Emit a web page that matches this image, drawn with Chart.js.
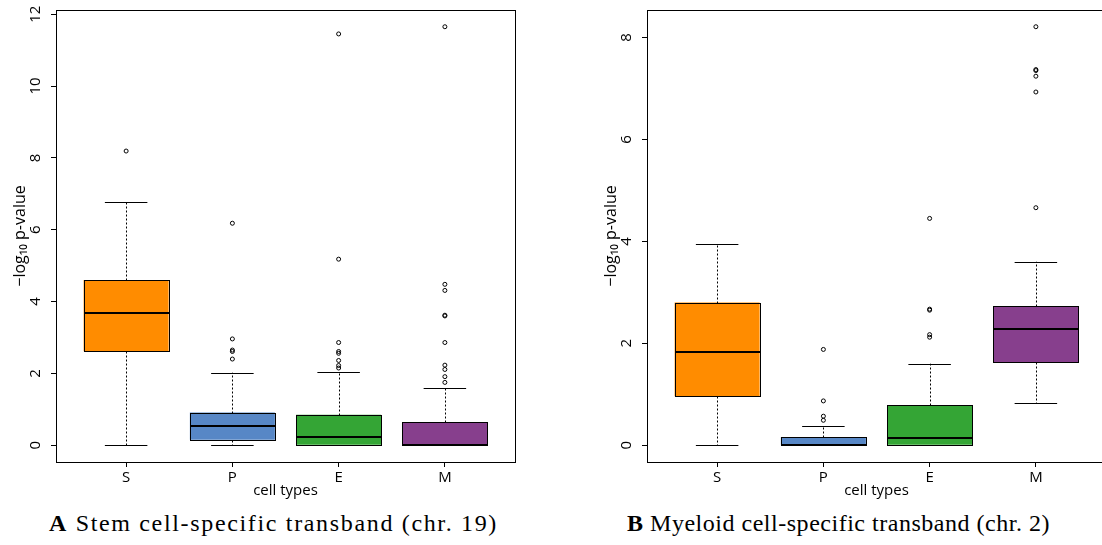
<!DOCTYPE html>
<html>
<head>
<meta charset="utf-8">
<script src="https://cdn.jsdelivr.net/npm/chart.js@4"></script>
<style>
  html, body { margin: 0; padding: 0; background: #fff; overflow: hidden; width: 1102px; height: 545px; }
  .panel { position: absolute; top: 0; width: 551px; height: 500px; }
  .cap { position: absolute; font-family: "Liberation Serif", serif; font-size: 24px; line-height: 1; color: #000; white-space: nowrap; }
</style>
</head>
<body>
<div class="panel" style="left:0"><canvas id="chartA" width="551" height="500"></canvas></div>
<div class="panel" style="left:591px"><canvas id="chartB" width="551" height="500"></canvas></div>
<div class="cap" id="capA" data-left="49" data-right="498"><b>A</b> Stem cell-specific transband (chr. 19)</div>
<div class="cap" id="capB" data-left="627" data-right="1050"><b>B</b> Myeloid cell-specific transband (chr. 2)</div>
<script>
const categories = ['S', 'P', 'E', 'M'];
const boxColors = ['#ff8c00', '#5787c6', '#34a535', '#873f8d'];

// A: stem cell-specific transband (chr. 19)
const lowA = [0, 0, 0, 0];
const q1A = [2.62, 0.15, 0, 0];
const medA = [3.67, 0.54, 0.22, 0];
const q3A = [4.60, 0.91, 0.85, 0.65];
const highA = [6.77, 2.02, 2.03, 1.59];
const outA = [
  [8.19],
  [6.18, 2.96, 2.65, 2.61, 2.40],
  [11.45, 5.18, 2.86, 2.61, 2.56, 2.36, 2.22, 2.15],
  [11.65, 4.48, 4.31, 3.62, 3.60, 2.86, 2.23, 2.11, 1.91, 1.75]
];
const ticksA = [0, 2, 4, 6, 8, 10, 12];

// B: myeloid cell-specific transband (chr. 2)
const lowB = [0, 0, 0, 0.83];
const q1B = [0.96, 0, 0, 1.63];
const medB = [1.82, 0, 0.14, 2.29];
const q3B = [2.80, 0.16, 0.79, 2.73];
const highB = [3.95, 0.37, 1.60, 3.60];
const outB = [
  [],
  [1.88, 0.87, 0.57, 0.49],
  [4.45, 2.67, 2.65, 2.17, 2.12],
  [8.21, 7.37, 7.35, 7.24, 6.93, 4.66]
];
const ticksB = [0, 2, 4, 6, 8];

const axisFont = { family: 'Open Sans', size: 15 };

function makeChart(id, low, q1, med, q3, high, outliers, yTicks) {
  const xs = categories.map((c, i) => i + 1);
  // R style axis range: 4% extension
  const maxV = Math.max(...high, ...outliers.flat());
  const minV = Math.min(...low);
  const ext = (maxV - minV) * 0.04;
  const xExt = xs.length * 0.04;

  const points = [];
  outliers.forEach((arr, i) => arr.forEach(v => points.push({ x: i + 1, y: v })));

  const boxPlugin = {
    id: 'boxplot',
    afterDatasetsDraw(chart) {
      const { ctx, chartArea: a, scales: { x, y } } = chart;
      const px = v => Math.round(v) + 0.5;
      ctx.save();
      ctx.strokeStyle = '#000';
      xs.forEach((xv, i) => {
        const cx = px(x.getPixelForValue(xv));
        const capL = x.getPixelForValue(xv - 0.2), capR = x.getPixelForValue(xv + 0.2);
        const boxL = px(x.getPixelForValue(xv - 0.4)), boxR = px(x.getPixelForValue(xv + 0.4));
        const yQ1 = px(y.getPixelForValue(q1[i])), yQ3 = px(y.getPixelForValue(q3[i]));
        // whiskers
        ctx.lineWidth = 1;
        ctx.setLineDash([2, 2]);
        ctx.beginPath();
        ctx.moveTo(cx, yQ3);
        ctx.lineTo(cx, y.getPixelForValue(high[i]));
        if (q1[i] > low[i]) {
          ctx.moveTo(cx, yQ1);
          ctx.lineTo(cx, y.getPixelForValue(low[i]));
        }
        ctx.stroke();
        // caps
        ctx.setLineDash([]);
        ctx.beginPath();
        [high[i], low[i]].forEach(v => {
          const py = px(y.getPixelForValue(v));
          ctx.moveTo(capL, py);
          ctx.lineTo(capR, py);
        });
        ctx.stroke();
        // box outline
        ctx.strokeRect(boxL, yQ3, boxR - boxL, yQ1 - yQ3);
        // median
        ctx.lineWidth = 2;
        ctx.beginPath();
        const my = Math.round(y.getPixelForValue(med[i]));
        ctx.moveTo(boxL, my);
        ctx.lineTo(boxR, my);
        ctx.stroke();
      });
      // plot frame
      ctx.lineWidth = 1;
      ctx.strokeRect(Math.round(a.left) + 0.5, Math.round(a.top) + 0.5, Math.round(a.width), Math.round(a.height));
      // rotated y tick labels
      ctx.fillStyle = '#000';
      ctx.font = axisFont.size + 'px "' + axisFont.family + '"';
      ctx.textAlign = 'center';
      ctx.textBaseline = 'middle';
      yTicks.forEach(v => {
        ctx.save();
        ctx.translate(a.left - 20, y.getPixelForValue(v));
        ctx.rotate(-Math.PI / 2);
        ctx.fillText(String(v), 0, 0);
        ctx.restore();
      });
      ctx.restore();
    }
  };

  return new Chart(document.getElementById(id), {
    type: 'bar',
    data: {
      datasets: [{
        data: xs.map((xv, i) => ({ x: xv, y: [q1[i], q3[i]] })),
        backgroundColor: boxColors,
        borderWidth: 0,
        barPercentage: 0.8,
        categoryPercentage: 1
      }, {
        type: 'scatter',
        data: points,
        pointStyle: 'circle',
        pointRadius: 2,
        borderWidth: 1,
        borderColor: '#000',
        backgroundColor: 'rgba(0,0,0,0)'
      }]
    },
    options: {
      responsive: false,
      animation: false,
      events: [],
      layout: { padding: { top: 10, right: 36, bottom: 0, left: 0 } },
      plugins: { legend: { display: false }, tooltip: { enabled: false } },
      scales: {
        x: {
          type: 'linear',
          offset: false,
          min: 1 - 0.5 - xExt,
          max: xs.length + 0.5 + xExt,
          afterBuildTicks: s => { s.ticks = xs.map(v => ({ value: v })); },
          afterFit: s => { s.height = 38; },
          border: { display: false },
          grid: { offset: false, drawOnChartArea: false, color: '#000', tickLength: 5 },
          ticks: { color: '#000', font: axisFont, padding: 2, callback: v => categories[v - 1] },
          title: { display: true, text: 'cell types', color: '#000', font: axisFont, padding: { top: 0, bottom: 0 } }
        },
        y: {
          min: minV - ext,
          max: maxV + ext,
          afterBuildTicks: s => { s.ticks = yTicks.map(v => ({ value: v })); },
          afterFit: s => { s.width = 56; },
          border: { display: false },
          grid: { drawOnChartArea: false, color: '#000', tickLength: 5 },
          ticks: { display: false },
          title: { display: true, text: '\u2212log\u2081\u2080 p-value', color: '#000', font: { family: 'Open Sans', size: 16 }, padding: { top: 11, bottom: 0 } }
        }
      }
    },
    plugins: [boxPlugin]
  });
}

makeChart('chartA', lowA, q1A, medA, q3A, highA, outA, ticksA);
makeChart('chartB', lowB, q1B, medB, q3B, highB, outB, ticksB);

// spread captions over the width they take in the figure
document.querySelectorAll('.cap').forEach(el => {
  const l = +el.dataset.left, r = +el.dataset.right;
  const w = el.getBoundingClientRect().width;
  const n = el.textContent.length;
  el.style.letterSpacing = Math.max(0, (r - l - w) / n) + 'px';
  el.style.left = l + 'px';
  el.style.top = (532 - 0.891 * 24) + 'px';
});
</script>
</body>
</html>
